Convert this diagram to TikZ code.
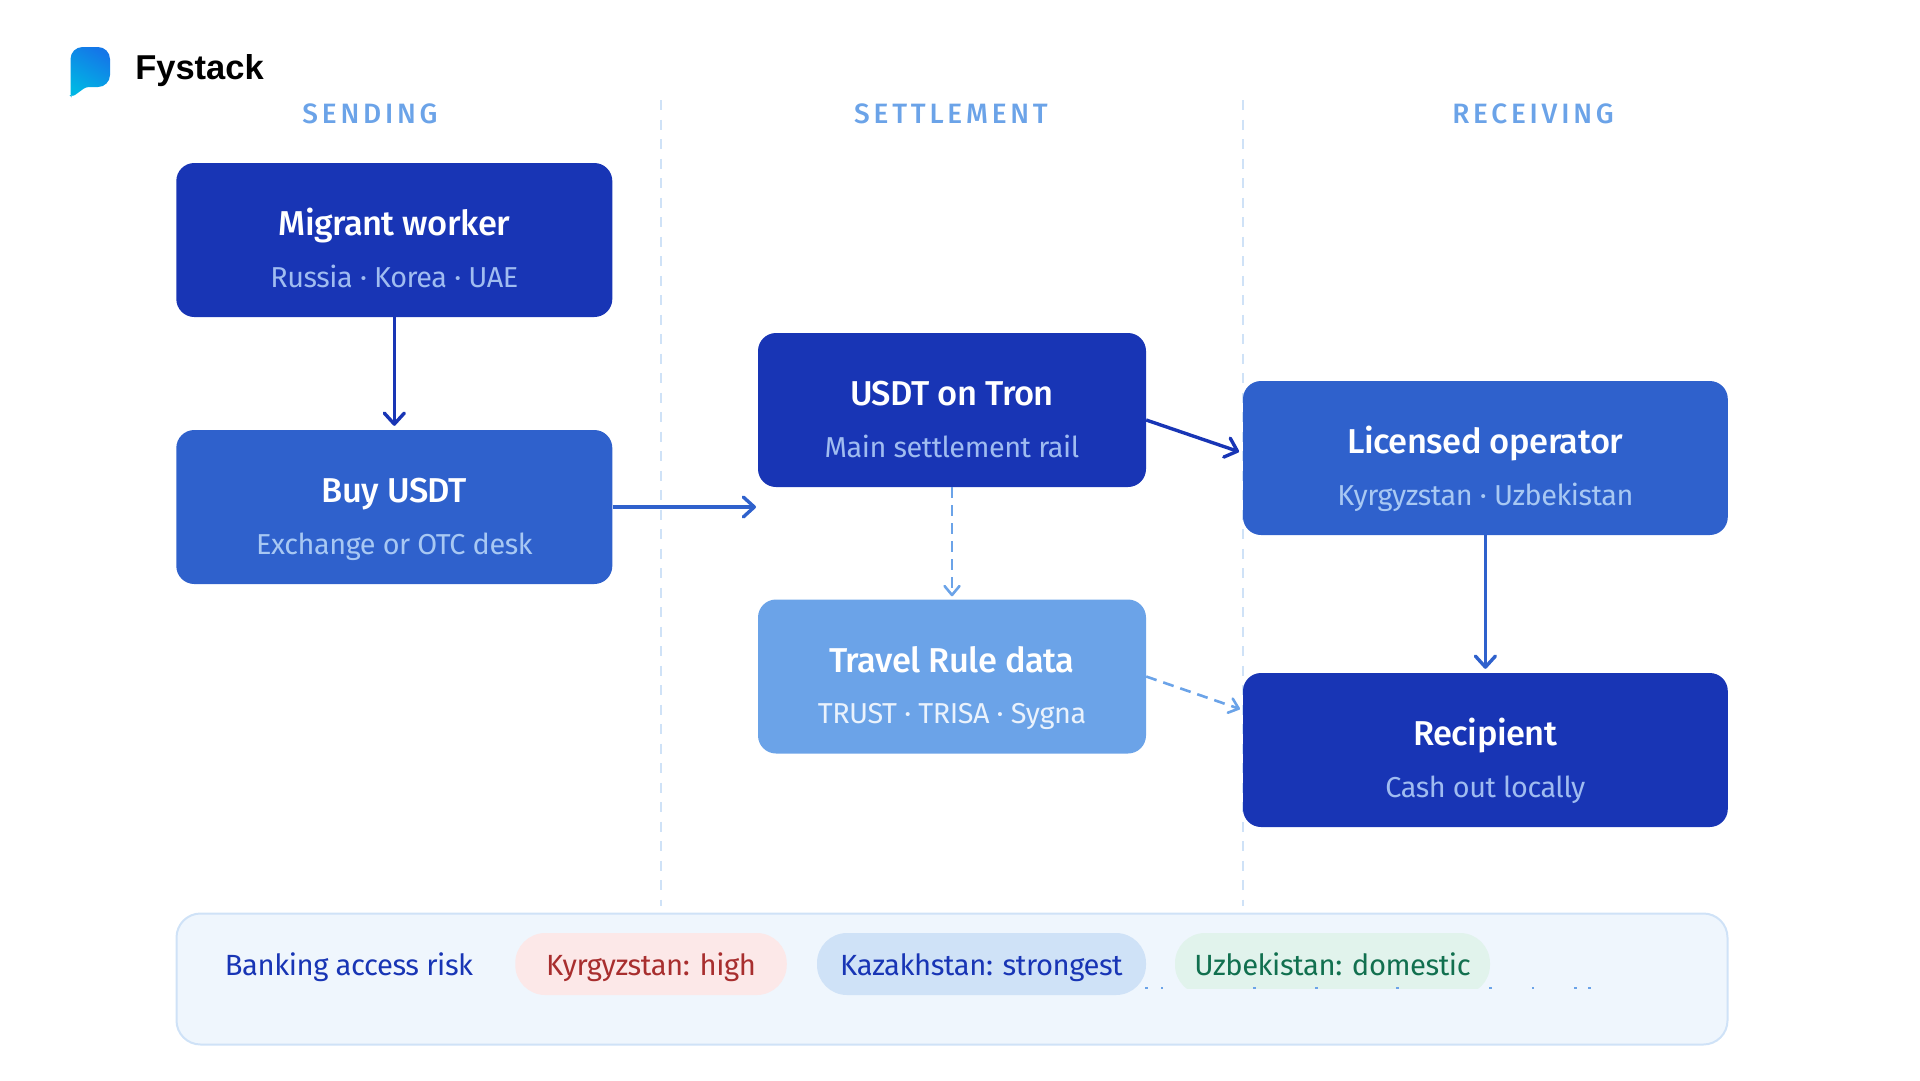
\documentclass[tikz,border=0pt]{standalone}
\usepackage{fontspec}
\setmainfont{Fira Sans}[BoldFont={Fira Sans Medium},LetterSpace=-1.5]
\newfontfamily\logofont{Liberation Sans}
\usetikzlibrary{arrows.meta}
\pgfdeclarelayer{edgelayer}
\pgfdeclarelayer{nodelayer}
\pgfsetlayers{edgelayer,nodelayer,main}
\definecolor{darkblue}{HTML}{1835B5}
\definecolor{midblue}{HTML}{2F61CC}
\definecolor{lightblue}{HTML}{6BA3E8}
\definecolor{paleblue}{HTML}{CFE2F7}
\definecolor{panelblue}{HTML}{EFF6FD}
\definecolor{subdark}{HTML}{A0BCF0}
\definecolor{submid}{HTML}{A8C8F3}
\definecolor{subpale}{HTML}{EAF2FC}
\definecolor{riskfill}{HTML}{FCE8E8}
\definecolor{risktext}{HTML}{A82E2E}
\definecolor{okfill}{HTML}{E1F3EC}
\definecolor{oktext}{HTML}{11704F}
\definecolor{logostart}{HTML}{1477E8}
\definecolor{logoend}{HTML}{00B5E4}
\newcommand{\boxtext}[3]{{\fontsize{34.500}{40}\bfseries\rule[-9pt]{0pt}{61pt}#1}\\[13.500pt]{\fontsize{28.800}{40}\selectfont\color{#2}\rule[-9pt]{0pt}{37pt}#3}}
\tikzstyle{stage}=[rounded corners=18pt,inner sep=0pt,align=center,text=white,minimum height=154pt]
\tikzstyle{column_title}=[text=lightblue,font=\fontsize{28}{30}\bfseries\addfontfeature{LetterSpace=13.500}]
\tikzstyle{risk_label}=[inner sep=0pt,text height=28.200pt,text depth=6pt,font=\fontsize{29.200}{32}\selectfont]
\tikzstyle{pill}=[style=risk_label,rounded corners=30pt,minimum height=62pt]
\tikzstyle{transition}=[line width=3.400pt,-{Straight Barb[length=11pt,width=20pt,round]},shorten >=4pt]
\tikzstyle{data_flow}=[line width=2.600pt,dash pattern=on 11pt off 7pt,-{Straight Barb[length=9pt,width=15pt,round]},shorten >=3pt,draw=lightblue]
\begin{document}
\begin{tikzpicture}[x=1pt,y=-1pt]
	\useasboundingbox (0, 0) rectangle (1920, 1080);
	\begin{pgfonlayer}{nodelayer}
		\node [style=stage, fill=darkblue, minimum width=436pt] (0) at (394.3, 240) {\boxtext{Migrant worker}{subdark}{Russia · Korea · UAE}};
		\node [style=stage, fill=midblue, minimum width=436pt] (1) at (394.3, 507) {\boxtext{Buy USDT}{submid}{Exchange or OTC desk}};
		\node [style=stage, fill=darkblue, minimum width=388pt] (2) at (952, 410) {\boxtext{USDT on Tron}{subdark}{Main settlement rail}};
		\node [style=stage, fill=lightblue, minimum width=388pt] (3) at (952, 676.5) {\boxtext{Travel Rule data}{subpale}{TRUST · TRISA · Sygna}};
		\node [style=stage, fill=midblue, minimum width=484.800pt] (4) at (1485.4, 458) {\boxtext{Licensed operator}{submid}{Kyrgyzstan · Uzbekistan}};
		\node [style=stage, fill=darkblue, minimum width=484.800pt] (5) at (1485.4, 750) {\boxtext{Recipient}{subdark}{Cash out locally}};
		\node [style=column_title] (6) at (370, 114) {SENDING};
		\node [style=column_title] (7) at (951, 114) {SETTLEMENT};
		\node [style=column_title] (8) at (1533, 114) {RECEIVING};
		\node [font=\logofont\fontsize{34.500}{40}\bfseries] (9) at (199.500, 71) {Fystack};
		\node [draw=paleblue, fill=panelblue, line width=2pt, rounded corners=24pt, minimum width=1551pt, minimum height=131pt] (10) at (952, 979) {};
		\node [style=risk_label, text=darkblue] (11) at (349, 964) {Banking access risk};
		\node [style=pill, fill=riskfill, text=risktext, minimum width=271.500pt] (12) at (651, 964) {Kyrgyzstan: high};
		\node [style=pill, fill=paleblue, text=darkblue, minimum width=329pt] (13) at (981.5, 964) {Kazakhstan: strongest};
		\node [style=pill, fill=okfill, text=oktext, minimum width=315pt] (14) at (1332.5, 964) {Uzbekistan: domestic};
		\fill [panelblue] (1150, 989) rectangle (1600, 1000);
		\foreach \x in {1145,1160.7,1253,1315,1396,1489,1531.7,1574,1588}
			\fill [lightblue] (\x, 987.2) rectangle +(2.500, 2);
	\end{pgfonlayer}
	\begin{pgfonlayer}{edgelayer}
		\coordinate (15) at (756, 507);
		\draw [paleblue, line width=2pt, dash pattern=on 10pt off 9.500pt] (661, 100) to (661, 906);
		\draw [paleblue, line width=2pt, dash pattern=on 10pt off 9.500pt] (1243, 100) to (1243, 906);
	\end{pgfonlayer}
	\draw [style=transition, draw=darkblue] (0) to (1);
	\draw [style=transition, draw=midblue, shorten >=0pt] (1) to (15);
	\draw [style=transition, draw=darkblue] ([yshift=-10pt]2.east) to ([yshift=5pt]4.west);
	\draw [style=transition, draw=midblue] (4) to (5);
	\draw [style=data_flow] (2) to (3);
	\draw [style=data_flow] (3.east) to ([yshift=40pt]5.west);
	\shade [left color=logostart, right color=logoend, shading angle=-30] (70.500, 96) [rounded corners=12pt] -- (70.500, 47) -- (110, 47) -- (110, 87) [rounded corners=3pt] -- (86, 87) [sharp corners] -- (75, 95) [rounded corners=2pt] -- (71, 96.500) -- cycle;
\end{tikzpicture}
\end{document}
